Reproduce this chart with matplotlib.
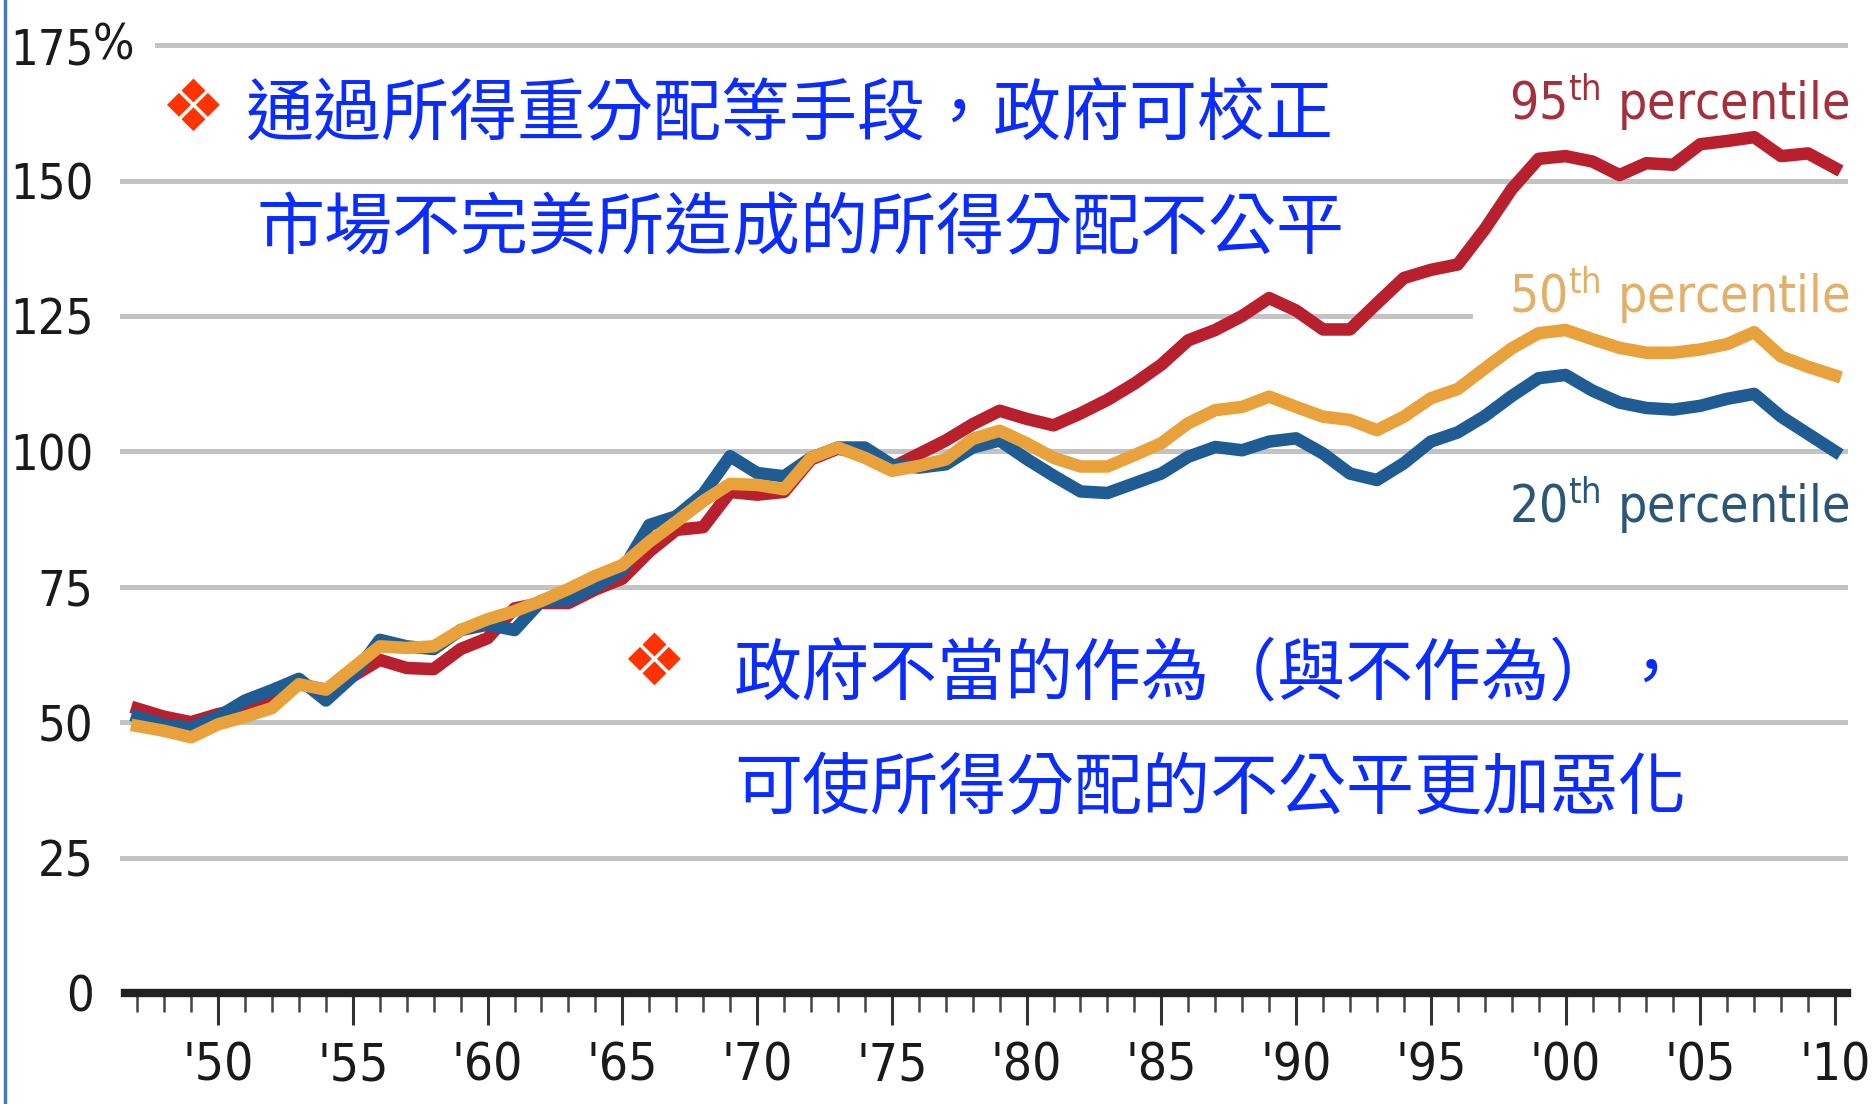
import os
import matplotlib
matplotlib.use("Agg")
import matplotlib.pyplot as plt
from matplotlib import font_manager as fm
from matplotlib.lines import Line2D

# data (index, 1947-2010)
years = list(range(1947, 2011))

p95 = [52.5, 51, 50, 51.5, 52.5, 54.5, 57, 56, 58.5, 61.5,
       60, 59.8, 63.5, 65.5, 71, 72, 72, 74.5, 76.5, 81.5,
       85.5, 86, 92.5, 92, 92.5, 98.5, 100.5, 99.5, 97, 99.5,
       102, 105, 107.5, 106, 104.8, 107, 109.5, 112.5, 116, 120.5,
       122.4, 125, 128.3, 126, 122.5, 122.5, 127.3, 132, 133.5, 134.5,
       141, 148.4, 154, 154.5, 153.5, 151, 153.2, 152.9, 156.7, 157.3,
       158, 154.5, 155, 152.3]

p50 = [49.3, 48.4, 47.2, 49.6, 51, 52.6, 57, 56, 60, 64,
       63.7, 64, 67, 69, 70.5, 72.4, 74.6, 77, 79, 83.3,
       87, 90.8, 94, 93.8, 93, 98.8, 100.7, 98.8, 96.4, 97.3,
       98.5, 102.3, 103.8, 101.5, 98.8, 97.2, 97.2, 99.3, 101.5, 105.2,
       107.6, 108.2, 110.1, 108.2, 106.4, 105.8, 103.9, 106.4, 109.8, 111.5,
       115.3, 119, 121.8, 122.4, 120.7, 119.1, 118.2, 118.2, 118.8, 119.8,
       122, 117.5, 115.6, 114]

p20 = [51, 49.5, 49, 51, 54, 55.9, 58, 54, 58.5, 65.2,
       64, 63.5, 67, 68, 67, 72.4, 72.5, 75, 78, 86.4,
       88, 92.1, 99.1, 96, 95.4, 98.8, 100.7, 100.7, 97.5, 97,
       97.6, 100.7, 102, 98.6, 95.5, 92.6, 92.3, 94.1, 95.9, 99,
       100.8, 100.2, 101.8, 102.4, 99.6, 95.9, 94.7, 97.8, 101.8, 103.5,
       106.5, 110.2, 113.5, 114.1, 111.2, 109, 108, 107.7, 108.4, 109.7,
       110.6, 106.4, 103.2, 100]

y_ticks = [0, 25, 50, 75, 100, 125, 150, 175]
y_labels = ["0", "25", "50", "75", "100", "125", "150", "175"]
x_major = list(range(1950, 2011, 5))
x_labels = ["'50", "'55", "'60", "'65", "'70", "'75", "'80", "'85",
            "'90", "'95", "'00", "'05", "'10"]

labels = ["95$^{\\mathregular{th}}$ percentile",
          "50$^{\\mathregular{th}}$ percentile",
          "20$^{\\mathregular{th}}$ percentile"]

text1 = ["通過所得重分配等手段，政府可校正", "市場不完美所造成的所得分配不公平"]
text2 = ["政府不當的作為（與不作為），", "可使所得分配的不公平更加惡化"]

CJK = ["Noto Sans CJK TC", "DejaVu Sans"]


def condensed_font():
    # the chart uses a narrow sans; take one if the machine has it
    for f in fm.fontManager.ttflist:
        key = (f.name + " " + os.path.basename(f.fname)).lower()
        if ("condensed" in key or "narrow" in key) and f.style == "normal" \
                and str(f.weight) in ("400", "normal", "regular") \
                and "semi" not in key and "extra" not in key \
                and "bold" not in key and "light" not in key:
            return f.fname
    return None


cond_file = condensed_font()
if cond_file:
    COND = fm.FontProperties(fname=cond_file)
    k = 1.0
else:
    COND = fm.FontProperties(family="Liberation Sans")
    k = 0.88


def cond(size):
    p = COND.copy()
    p.set_size(size * k)
    return p


W, H = 1872, 1104
fig = plt.figure(figsize=(W / 100, H / 100), dpi=100)
ax = fig.add_axes([120 / W, 111 / H, 1728 / W, 975 / H])
ax.set_xlim(1946.36, 2010.48)
ax.set_ylim(0, 180)

# gridlines
for v in y_ticks[1:]:
    xmin = 0.0214 if v == 175 else 0
    xmax = 0.781 if v == 125 else 1
    ax.axhline(v, xmin=xmin, xmax=xmax, color="#c3c3c3", lw=3.6, zorder=1)

ax.plot(years, p95, color="#b8202e", lw=9, solid_joinstyle="round", zorder=3)
ax.plot(years, p20, color="#1f5c93", lw=9, solid_joinstyle="round", zorder=4)
ax.plot(years, p50, color="#e9a23b", lw=9, solid_joinstyle="round", zorder=5)

for sp in ["top", "right", "left"]:
    ax.spines[sp].set_visible(False)
ax.spines["bottom"].set_linewidth(6)
ax.spines["bottom"].set_color("#222222")
ax.spines["bottom"].set_bounds(1946.55, 2010.45)

ax.set_yticks(y_ticks)
ax.set_yticklabels(y_labels)
for t in ax.get_yticklabels():
    t.set_fontproperties(cond(35))
    t.set_color("#1a1a1a")
ax.tick_params(axis="y", length=0, pad=19)
ax.text(-0.0156, 175, "%", transform=ax.get_yaxis_transform(), ha="left",
        va="center", color="#1a1a1a", fontproperties=cond(35))

ax.set_xticks(x_major)
ax.set_xticklabels(x_labels)
for t in ax.get_xticklabels():
    t.set_fontproperties(cond(37))
    t.set_color("#1a1a1a")
ax.set_xticks(years, minor=True)
ax.tick_params(axis="x", which="major", direction="out", length=23, width=2.2,
               color="#333333", pad=12)
ax.tick_params(axis="x", which="minor", direction="out", length=14, width=1.8,
               color="#444444")

# series labels
lab_colors = ["#a5303c", "#e2b06a", "#2b5677"]
lab_y = [161.2, 125.5, 86.8]
for lab, c, yy in zip(labels, lab_colors, lab_y):
    ax.text(1997.9, yy, lab, color=c, ha="left", va="baseline", zorder=6,
            fontproperties=cond(37))

# bullets and Chinese notes
fig.text(193 / W, 1 - 111 / H, "❖", color="#ff3300", fontsize=52,
         family="DejaVu Sans", ha="center", va="center")
fig.text(245 / W, 1 - 116 / H, text1[0], color="#0a2cff", fontsize=49,
         family=CJK, ha="left", va="center")
fig.text(257 / W, 1 - 230 / H, text1[1], color="#0a2cff", fontsize=49,
         family=CJK, ha="left", va="center")
fig.text(654 / W, 1 - 665 / H, "❖", color="#ff3300", fontsize=52,
         family="DejaVu Sans", ha="center", va="center")
fig.text(734 / W, 1 - 675 / H, text2[0], color="#0a2cff", fontsize=49,
         family=CJK, ha="left", va="center")
fig.text(734 / W, 1 - 790 / H, text2[1], color="#0a2cff", fontsize=49,
         family=CJK, ha="left", va="center")

# slide edge
fig.add_artist(Line2D([5 / W, 5 / W], [0, 1], transform=fig.transFigure,
                      color="#4a7ab5", lw=2.5))

fig.savefig("out.png", dpi=100)
